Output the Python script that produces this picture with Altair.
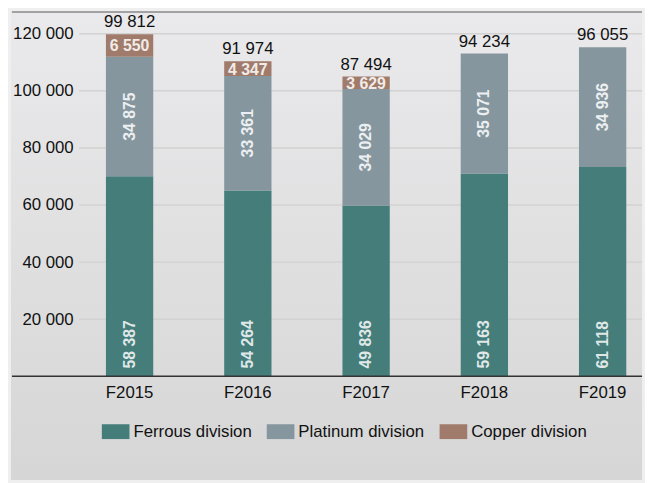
import altair as alt
import pandas as pd

years = ["F2015", "F2016", "F2017", "F2018", "F2019"]
ferrous = [58387, 54264, 49836, 59163, 61118]
platinum = [34875, 33361, 34029, 35071, 34936]
copper = [6550, 4347, 3629, None, None]
totals = [99812, 91974, 87494, 94234, 96055]
divisions = ["Ferrous division", "Platinum division", "Copper division"]
colors = ["#457d7b", "#85969e", "#a07b6b"]
y_tick_labels = [20000, 40000, 60000, 80000, 100000, 120000]
axis_factor = 1.2  # the reference's y-axis labels run 1.2x the plotted values

FONT = "Liberation Sans, Arial, sans-serif"
W, H = 570, 347


def fmt(v):
    return f"{int(v):,}".replace(",", " ")


rows = []
for i, yr in enumerate(years):
    base = 0
    for div, vals in zip(divisions, [ferrous, platinum, copper]):
        v = vals[i]
        if v is None:
            continue
        rows.append(dict(year=yr, division=div, value=v, start=base, end=base + v,
                         mid=base + v / 2, label=fmt(v)))
        base += v
df = pd.DataFrame(rows)
tot = pd.DataFrame(dict(year=years, total=totals, label=[fmt(t) for t in totals]))
ticks = pd.DataFrame(dict(t=[t / axis_factor for t in y_tick_labels]))
one = pd.DataFrame(dict(a=[0]))

xscale = alt.Scale(domain=years, paddingInner=0.6, paddingOuter=0.18, align=0.63)
yscale = alt.Scale(domain=[0, 120000 / axis_factor], nice=False, zero=True)

xenc = alt.X("year:N", scale=xscale, sort=years,
             axis=alt.Axis(title=None, labelAngle=0, labelFont=FONT, labelFontSize=17,
                           labelColor="#111", labelPadding=8, ticks=False, domain=False,
                           grid=False, zindex=1))

bg = alt.Chart(one).mark_rect(
    color=alt.LinearGradient(gradient="linear", x1=0, y1=0, x2=0, y2=1,
                             stops=[alt.GradientStop(color="#eaeaec", offset=0),
                                    alt.GradientStop(color="#d6d6d6", offset=1)])
).encode(x=alt.value(-69), x2=alt.value(W), y=alt.value(-23), y2=alt.value(H + 105))

topline = alt.Chart(one).mark_rule(color="#8a8a8a", strokeWidth=1.5).encode(
    x=alt.value(-68), x2=alt.value(W), y=alt.value(-22))

grid = alt.Chart(ticks).mark_rule(color="#d2d2d2", strokeWidth=1.5).encode(
    y=alt.Y("t:Q", scale=yscale,
            axis=alt.Axis(title=None, values=[t / axis_factor for t in y_tick_labels],
                          labelExpr="replace(format(round(datum.value*%s), ','), ',', ' ')" % axis_factor,
                          labelFont=FONT, labelFontSize=17, labelColor="#111",
                          labelPadding=6, ticks=False, domain=False, grid=False, zindex=1)),
    x=alt.value(0), x2=alt.value(W))

bars = alt.Chart(df).mark_bar().encode(
    x=xenc,
    y=alt.Y("start:Q", scale=yscale),
    y2="end:Q",
    color=alt.Color("division:N",
                    scale=alt.Scale(domain=divisions, range=colors),
                    legend=alt.Legend(orient="none", legendX=23, legendY=389,
                                      direction="horizontal", title=None,
                                      symbolType="M-1,-0.536H1V0.536H-1Z",
                                      symbolSize=784, symbolStrokeWidth=0, symbolOpacity=1,
                                      labelFont=FONT, labelFontSize=17, labelColor="#111",
                                      labelOffset=4, columnPadding=15, padding=0)),
)

axisline = alt.Chart(one).mark_rule(color="#333", strokeWidth=1.5).encode(
    x=alt.value(-68), x2=alt.value(W), y=alt.value(H))

ferr_lab = alt.Chart(df[df.division == "Ferrous division"]).mark_text(
    angle=270, align="left", baseline="middle", dx=8, font=FONT, fontSize=16,
    fontWeight="bold", color="#dfe8e7"
).encode(x=xenc, y=alt.Y("start:Q", scale=yscale), text="label:N")

plat_lab = alt.Chart(df[df.division == "Platinum division"]).mark_text(
    angle=270, align="center", baseline="middle", font=FONT, fontSize=16,
    fontWeight="bold", color="#eceff1"
).encode(x=xenc, y=alt.Y("mid:Q", scale=yscale), text="label:N")

cop_lab = alt.Chart(df[df.division == "Copper division"]).mark_text(
    align="center", baseline="middle", dy=1, font=FONT, fontSize=16,
    fontWeight="bold", color="#f1ebe8"
).encode(x=xenc, y=alt.Y("mid:Q", scale=yscale), text="label:N")

tot_lab = alt.Chart(tot).mark_text(
    align="center", baseline="alphabetic", dy=-7, font=FONT, fontSize=17, color="#111"
).encode(x=xenc, y=alt.Y("total:Q", scale=yscale), text="label:N")

chart = alt.layer(bg, topline, grid, bars, axisline, ferr_lab, plat_lab, cop_lab, tot_lab).properties(
    width=W, height=H,
    autosize=alt.AutoSizeParams(type="none"),
    padding={"left": 72, "top": 23, "right": 3, "bottom": 105},
    background="#efefef",
).configure_view(stroke=None)

chart.save("out.html", embed_options={"renderer": "svg", "actions": False})
